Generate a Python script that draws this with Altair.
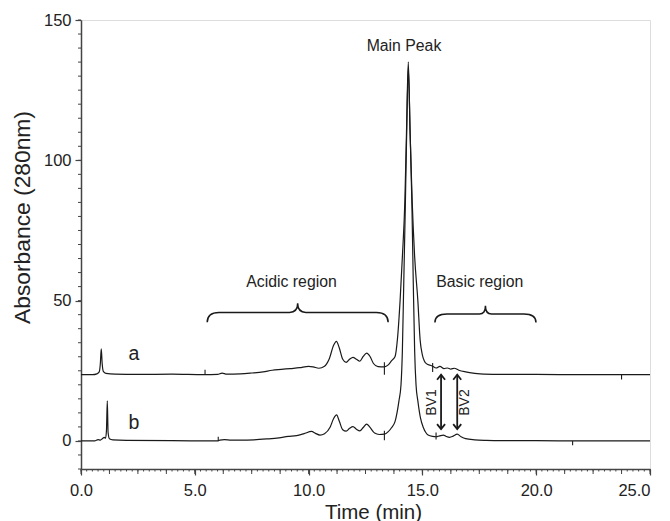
import altair as alt
import pandas as pd

# ---- data ----
# trace a (values relative to its own baseline; drawn with a vertical offset)
trace_a = [
    (0.0, 0.0), (0.5, 0.0), (0.7, 0.3), (0.8, 1.0), (0.85, 4.0), (0.89, 9.2), (0.93, 4.0),
    (0.98, 1.2), (1.1, 0.5), (1.5, 0.2), (2.5, 0.1), (4.0, 0.2), (5.4, 0.0), (6.0, 0.1),
    (6.2, 0.6), (6.4, 0.2), (7.0, 0.3), (7.5, 0.6), (8.0, 1.0), (8.4, 1.6), (8.8, 1.9),
    (9.2, 2.2), (9.6, 2.5), (10.0, 3.0), (10.2, 2.8), (10.45, 2.3), (10.7, 3.0), (10.9, 5.5),
    (11.1, 10.5), (11.22, 11.9), (11.35, 9.5), (11.5, 5.5), (11.65, 4.4), (11.8, 5.5),
    (11.95, 6.2), (12.1, 5.5), (12.25, 4.8), (12.4, 6.5), (12.55, 7.7), (12.7, 6.5),
    (12.85, 4.0), (13.05, 2.9), (13.33, 2.8), (13.5, 3.5), (13.65, 5.0), (13.8, 6.5),
    (13.9, 12.4), (14.02, 26.4), (14.12, 42.0), (14.23, 62.0), (14.3, 86.0), (14.38, 111.5),
    (14.46, 86.0), (14.55, 62.0), (14.66, 42.0), (14.8, 26.4), (14.9, 12.4), (15.0, 7.0),
    (15.08, 5.0), (15.2, 3.8), (15.33, 3.4), (15.45, 3.0), (15.6, 2.4), (15.77, 3.0),
    (15.95, 2.2), (16.1, 2.4), (16.25, 2.0), (16.4, 2.3), (16.6, 1.6), (16.9, 1.0),
    (17.3, 0.5), (17.7, 0.2), (18.5, 0.1), (20.0, 0.1), (22.0, 0.0), (25.0, 0.0),
]
trace_b = [
    (0.0, 0.0), (0.6, 0.0), (0.75, 0.45), (0.85, 0.3), (0.95, 0.9), (1.02, 1.3), (1.08, 1.0),
    (1.12, 4.0), (1.155, 14.3), (1.19, 3.0), (1.25, 0.8), (1.4, 0.4), (2.0, 0.2), (4.0, 0.1),
    (6.0, 0.0), (6.1, 0.3), (6.3, 0.5), (6.6, 0.3), (7.0, 0.3), (7.6, 0.4), (8.16, 0.7),
    (8.7, 1.1), (9.1, 1.6), (9.47, 1.9), (9.8, 2.6), (10.13, 3.4), (10.3, 2.7), (10.5, 2.1),
    (10.7, 2.6), (10.95, 5.0), (11.1, 8.0), (11.23, 9.3), (11.35, 7.0), (11.5, 4.0),
    (11.65, 3.5), (11.8, 4.5), (11.95, 5.1), (12.1, 4.2), (12.25, 3.6), (12.4, 4.8),
    (12.55, 6.0), (12.7, 4.8), (12.9, 2.8), (13.1, 2.3), (13.33, 2.4), (13.5, 3.3),
    (13.65, 4.8), (13.8, 7.0), (13.97, 14.3), (14.06, 20.0), (14.12, 32.0), (14.18, 56.0),
    (14.25, 84.0), (14.31, 110.0), (14.38, 133.0), (14.46, 110.0), (14.54, 84.0),
    (14.6, 56.0), (14.66, 32.0), (14.72, 20.0), (14.8, 14.3), (14.92, 8.0), (15.04, 4.8),
    (15.15, 3.0), (15.25, 2.1), (15.45, 1.6), (15.6, 1.5), (15.75, 1.8), (15.92, 2.1),
    (16.05, 1.6), (16.2, 1.3), (16.35, 1.7), (16.53, 2.4), (16.7, 1.5), (16.9, 0.8),
    (17.3, 0.4), (17.8, 0.2), (18.5, 0.1), (20.0, 0.1), (22.0, 0.0), (25.0, 0.0),
]
A_OFFSET = 23.6

# integration marker ticks (time, from, to)
marker_t = [5.45, 13.33, 15.45, 23.75, 6.03, 13.33, 15.6, 21.6]
marker_v1 = [23.6, 23.6, 24.6, 21.9, 0.0, 0.25, 0.5, -1.5]
marker_v2 = [25.4, 28.0, 27.8, 23.6, 1.5, 3.6, 3.0, 0.0]

# text annotations
ann_text = ["Main Peak", "Acidic region", "Basic region", "a", "b"]
ann_t = [14.19, 9.25, 17.52, 2.33, 2.33]
ann_v = [138.9, 54.75, 54.75, 28.8, 4.4]
ann_fs = [15.8, 15.8, 15.8, 19.5, 19.5]

# BV arrows
arrow_t = [15.82, 16.53]
arrow_top = [23.6, 23.6]
arrow_bot = [4.2, 4.2]
bv_text = ["BV1", "BV2"]
bv_t = [15.43, 16.87]
bv_v = [13.7, 13.7]

# braces: centre time, level, span (min)
brace_t = [9.52, 17.77]
brace_v = [45.8, 45.2]
brace_span = [7.95, 4.44]

# axis ticks
x_major = [0, 5, 10, 15, 20, 25]
x_mid = [i * 1.25 for i in range(21)]
x_minor = [i * 0.25 for i in range(101)]
y_major = [0, 50, 100, 150]
y_minor = list(range(-10, 151, 5))

W, H = 569, 449
FONT = "Liberation Sans"
INK = "#1a1a1a"
AX = "#444444"

rows = [{"t": t, "v": v + A_OFFSET, "trace": "a"} for t, v in trace_a]
rows += [{"t": t, "v": v, "trace": "b"} for t, v in trace_b]
df = pd.DataFrame(rows)

xs = alt.Scale(domain=[0, 25], nice=False, zero=False)
ys = alt.Scale(domain=[-10, 150], nice=False, zero=False)

lines = alt.Chart(df).mark_line(interpolate="monotone", color=INK, strokeWidth=1.2).encode(
    x=alt.X("t:Q", scale=xs, axis=alt.Axis(
        orient="bottom", values=x_major, format=".1f", grid=False, labelFlush=False,
        labelAlign=alt.condition("datum.value >= 25", alt.value("right"), alt.value("center")),
        tickSize=6, tickColor=AX, tickWidth=1.2, domainColor=AX, domainWidth=1.5,
        labelFont=FONT, labelFontSize=16.5, labelPadding=7, labelColor="#222",
        title="Time (min)", titleFont=FONT, titleFontSize=20.5, titleFontWeight="normal",
        titleColor="#222", titleY=49, titleX=292, titleBaseline="alphabetic")),
    y=alt.Y("v:Q", scale=ys, axis=alt.Axis(
        orient="left", values=y_major, format="d", grid=False, labelFlush=False,
        tickSize=6, tickColor=AX, tickWidth=1.2, domainColor=AX, domainWidth=1.5,
        labelFont=FONT, labelFontSize=16.5, labelPadding=4, labelColor="#222",
        title="Absorbance (280nm)", titleFont=FONT, titleFontSize=22.8, titleFontWeight="normal",
        titleColor="#222", titleX=-52, titleY=197, titleBaseline="alphabetic", titleAngle=270)),
    detail="trace:N",
)

# minor ticks drawn as short rules outside the plot frame
xmid_df = pd.DataFrame({"t": x_mid})
xmin_df = pd.DataFrame({"t": x_minor})
ymin_df = pd.DataFrame({"v": y_minor})
xticks_mid = alt.Chart(xmid_df).mark_rule(color=AX, strokeWidth=1).encode(
    x=alt.X("t:Q", scale=xs), y=alt.value(H), y2=alt.value(H + 5))
xticks_min = alt.Chart(xmin_df).mark_rule(color=AX, strokeWidth=1).encode(
    x=alt.X("t:Q", scale=xs), y=alt.value(H), y2=alt.value(H + 2.5))
yticks_min = alt.Chart(ymin_df).mark_rule(color=AX, strokeWidth=1).encode(
    y=alt.Y("v:Q", scale=ys), x=alt.value(0), x2=alt.value(-3))

mk = pd.DataFrame({"t": marker_t, "v1": marker_v1, "v2": marker_v2})
markers = alt.Chart(mk).mark_rule(color=INK, strokeWidth=1.1).encode(
    x=alt.X("t:Q", scale=xs), y=alt.Y("v1:Q", scale=ys), y2="v2:Q")

ann = pd.DataFrame({"label": ann_text, "t": ann_t, "v": ann_v, "fs": ann_fs})
texts = alt.Chart(ann).mark_text(font=FONT, color="#222", baseline="alphabetic", align="center").encode(
    x=alt.X("t:Q", scale=xs), y=alt.Y("v:Q", scale=ys), text="label:N",
    size=alt.Size("fs:Q", scale=None, legend=None))

ar = pd.DataFrame({"t": arrow_t, "top": arrow_top, "bot": arrow_bot})
shafts = alt.Chart(ar).mark_rule(color=INK, strokeWidth=1.8).encode(
    x=alt.X("t:Q", scale=xs), y=alt.Y("top:Q", scale=ys), y2="bot:Q")
heads_up = alt.Chart(ar).mark_point(shape="M -0.8 1 L 0 0 L 0.8 1", filled=False, size=100,
                                    color=INK, strokeWidth=1.8, opacity=1).encode(
    x=alt.X("t:Q", scale=xs), y=alt.Y("top:Q", scale=ys))
heads_dn = alt.Chart(ar).mark_point(shape="M -0.8 -1 L 0 0 L 0.8 -1", filled=False, size=100,
                                    color=INK, strokeWidth=1.8, opacity=1).encode(
    x=alt.X("t:Q", scale=xs), y=alt.Y("bot:Q", scale=ys))

bv = pd.DataFrame({"label": bv_text, "t": bv_t, "v": bv_v})
bv_labels = alt.Chart(bv).mark_text(font=FONT, fontSize=14, color="#222", angle=270,
                                    baseline="middle", align="center").encode(
    x=alt.X("t:Q", scale=xs), y=alt.Y("v:Q", scale=ys), text="label:N")

px_per_min = W / 25.0
brace_paths = [
    "M -1 0.11 Q -1 0 -0.87 0 L -0.09 0 Q 0 0 0 -0.1 Q 0 0 0.09 0 L 0.87 0 Q 1 0 1 0.11",
    "M -1 0.166 Q -1 0 -0.76 0 L -0.12 0 Q 0 0 0 -0.165 Q 0 0 0.12 0 L 0.76 0 Q 1 0 1 0.166",
]
braces = []
for i in range(2):
    bdf = pd.DataFrame({"t": [brace_t[i]], "v": [brace_v[i]]})
    braces.append(alt.Chart(bdf).mark_point(
        shape=brace_paths[i], filled=False, size=(brace_span[i] * px_per_min) ** 2,
        color=INK, strokeWidth=1.5, opacity=1).encode(
        x=alt.X("t:Q", scale=xs), y=alt.Y("v:Q", scale=ys)))

chart = alt.layer(
    lines, xticks_mid, xticks_min, yticks_min, markers, shafts, heads_up, heads_dn,
    bv_labels, texts, *braces
).properties(
    width=W, height=H,
    autosize=alt.AutoSizeParams(type="none"),
    padding={"left": 73, "top": 12, "right": 12, "bottom": 52},
).configure_view(stroke=AX, strokeWidth=1.5).configure(background="white")

chart.save("out.html", embed_options={"renderer": "svg", "actions": False})
